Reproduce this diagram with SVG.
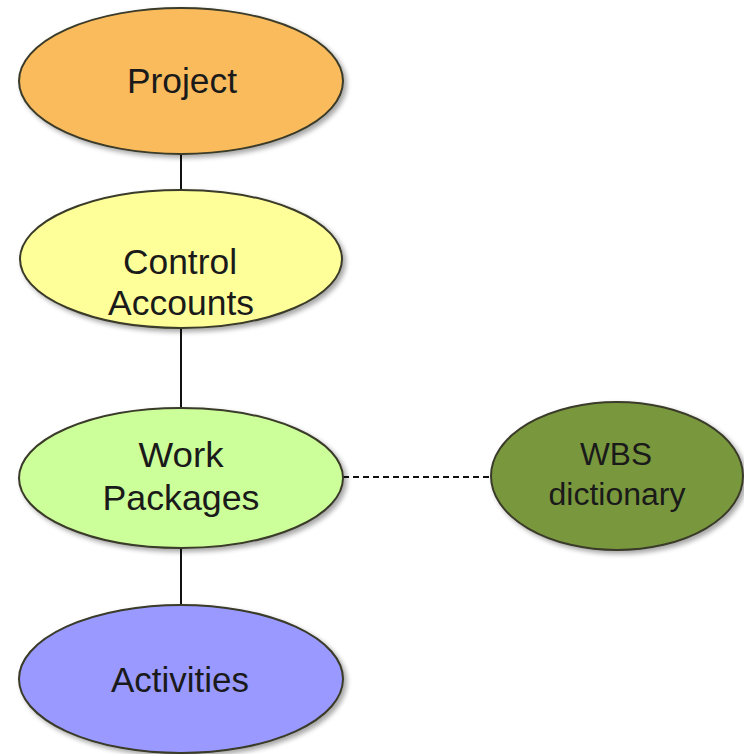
<svg xmlns="http://www.w3.org/2000/svg" width="744" height="754" viewBox="0 0 744 754">
<defs>
<filter id="sh" x="-10%" y="-10%" width="125%" height="130%">
<feGaussianBlur in="SourceAlpha" stdDeviation="2.5"/>
<feOffset dx="3" dy="3" result="b"/>
<feComponentTransfer><feFuncA type="linear" slope="0.35"/></feComponentTransfer>
<feMerge><feMergeNode/><feMergeNode in="SourceGraphic"/></feMerge>
</filter>
</defs>
<style>
.n{stroke:#3a3a2a;stroke-width:2;filter:url(#sh)}
.t{font-family:"Liberation Sans",Arial,sans-serif;font-size:35px;fill:#1a1a1a;text-anchor:middle}
.s{font-size:31px}
.c{stroke:#111;stroke-width:2;fill:none}
</style>
<rect width="744" height="754" fill="#fff"/>
<g id="connectors">
<line class="c" x1="181" y1="155" x2="181" y2="190"/>
<line class="c" x1="181" y1="328" x2="181" y2="410"/>
<line class="c" x1="181" y1="548" x2="181" y2="606"/>
<line class="c" x1="343" y1="477" x2="491" y2="477" stroke-dasharray="6,4"/>
</g>
<g id="project">
<ellipse class="n" cx="181" cy="81" rx="162" ry="73" fill="#F9BB5C"/>
<text class="t" x="182" y="93" textLength="110" lengthAdjust="spacingAndGlyphs">Project</text>
</g>
<g id="control-accounts">
<ellipse class="n" cx="181" cy="259" rx="161" ry="69" fill="#FFFF99"/>
<text class="t" x="180" y="274" textLength="114" lengthAdjust="spacingAndGlyphs">Control</text>
<text class="t" x="181" y="315" textLength="146" lengthAdjust="spacingAndGlyphs">Accounts</text>
</g>
<g id="work-packages">
<ellipse class="n" cx="181" cy="478" rx="162" ry="70" fill="#CCFF99"/>
<text class="t" x="181" y="467" textLength="85" lengthAdjust="spacingAndGlyphs">Work</text>
<text class="t" x="181" y="510" textLength="157" lengthAdjust="spacingAndGlyphs">Packages</text>
</g>
<g id="wbs-dictionary">
<ellipse class="n" cx="617" cy="476" rx="126" ry="74" fill="#79983C"/>
<text class="t s" x="616" y="465" textLength="72" lengthAdjust="spacingAndGlyphs">WBS</text>
<text class="t s" x="617" y="505" textLength="137" lengthAdjust="spacingAndGlyphs">dictionary</text>
</g>
<g id="activities">
<ellipse class="n" cx="181" cy="679" rx="162" ry="74" fill="#9999FF"/>
<text class="t" x="180" y="692" textLength="138" lengthAdjust="spacingAndGlyphs">Activities</text>
</g>
</svg>
